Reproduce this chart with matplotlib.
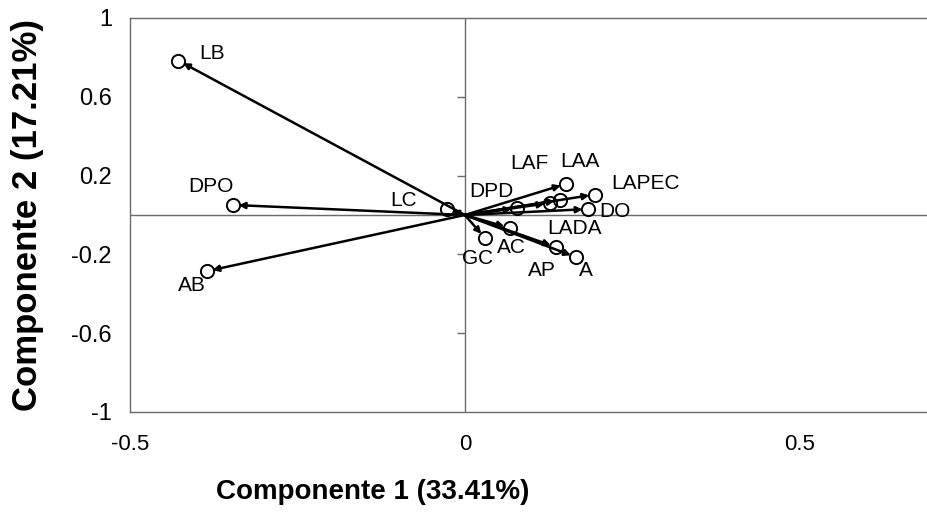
import matplotlib
matplotlib.use("Agg")
import matplotlib.pyplot as plt

# Loadings of each variable on the first two principal components
variables = ["LB", "DPO", "AB", "LC", "DPD", "LAF", "LAA", "LAPEC",
             "DO", "LADA", "AC", "GC", "AP", "A"]
comp1 = [-0.428, -0.346, -0.385, -0.027, 0.078, 0.142, 0.151, 0.194,
         0.184, 0.127, 0.067, 0.030, 0.136, 0.166]
comp2 = [0.784, 0.051, -0.285, 0.030, 0.035, 0.076, 0.158, 0.104,
         0.030, 0.061, -0.066, -0.117, -0.163, -0.214]

x_ticks = [-0.5, 0, 0.5]
x_ticklabels = ["-0.5", "0", "0.5"]
y_ticks = [1, 0.6, 0.2, -0.2, -0.6, -1]
y_ticklabels = ["1", "0.6", "0.2", "-0.2", "-0.6", "-1"]

# label offsets in pixels (dx, dy) from each point
label_offsets = {
    "LB": (34, 7), "DPO": (-22, 18), "AB": (-15, -14), "LC": (-43, 9),
    "DPD": (-26, 17), "LAF": (-31, 37), "LAA": (14, 22), "LAPEC": (51, 11),
    "DO": (27, -2), "LADA": (25, -26), "AC": (2, -19), "GC": (-7, -20),
    "AP": (-14, -23), "A": (10, -13),
}

plt.rcParams["font.family"] = ["Liberation Sans", "DejaVu Sans"]

fig = plt.figure(figsize=(9.27, 5.13), dpi=100)
ax = fig.add_axes([130 / 927, 1 - 412 / 513, 1 - 130 / 927, (412 - 18) / 513])
ax.set_xlim(-0.5, 0.69)
ax.set_ylim(-1, 1)

frame_col = "#6a6a6a"
for side in ["left", "top", "bottom"]:
    ax.spines[side].set_color(frame_col)
    ax.spines[side].set_linewidth(1.0)
ax.spines["right"].set_visible(False)

# zero reference lines
ax.axhline(0, color=frame_col, lw=1.0, zorder=1)
ax.axvline(0, color=frame_col, lw=1.0, zorder=1)
ax.plot([0] * 4, [0.6, 0.2, -0.2, -0.6], linestyle="none", marker=0,
        markersize=6, markeredgewidth=1.0, color=frame_col, zorder=1)

ax.set_xticks(x_ticks)
ax.set_xticklabels(x_ticklabels, fontsize=16)
ax.set_yticks(y_ticks)
ax.set_yticklabels(y_ticklabels, fontsize=17)
ax.tick_params(axis="both", length=0)
ax.tick_params(axis="x", pad=16)
ax.tick_params(axis="y", pad=13)

# loading vectors
for name, x, y in zip(variables, comp1, comp2):
    ax.annotate("", xy=(x, y), xytext=(0, 0),
                arrowprops=dict(arrowstyle="-|>", color="black", lw=1.8,
                                mutation_scale=9, shrinkA=0, shrinkB=4),
                zorder=3)
ax.plot(comp1, comp2, linestyle="none", marker="o", markersize=9.5,
        markerfacecolor="none", markeredgecolor="black",
        markeredgewidth=1.4, zorder=4)

for name, x, y in zip(variables, comp1, comp2):
    dx, dy = label_offsets[name]
    ax.annotate(name, xy=(x, y), xytext=(dx, dy), textcoords="offset pixels",
                ha="center", va="center", fontsize=15, zorder=5)

fig.text(373 / 927, 1 - 492 / 513, "Componente 1 (33.41%)",
         fontweight="bold", fontsize=20, ha="center", va="center")
fig.text(28 / 927, 1 - 215 / 513, "Componente 2 (17.21%)", rotation=90,
         fontweight="bold", fontsize=25, ha="center", va="center")

fig.savefig("out.png", dpi=100)
